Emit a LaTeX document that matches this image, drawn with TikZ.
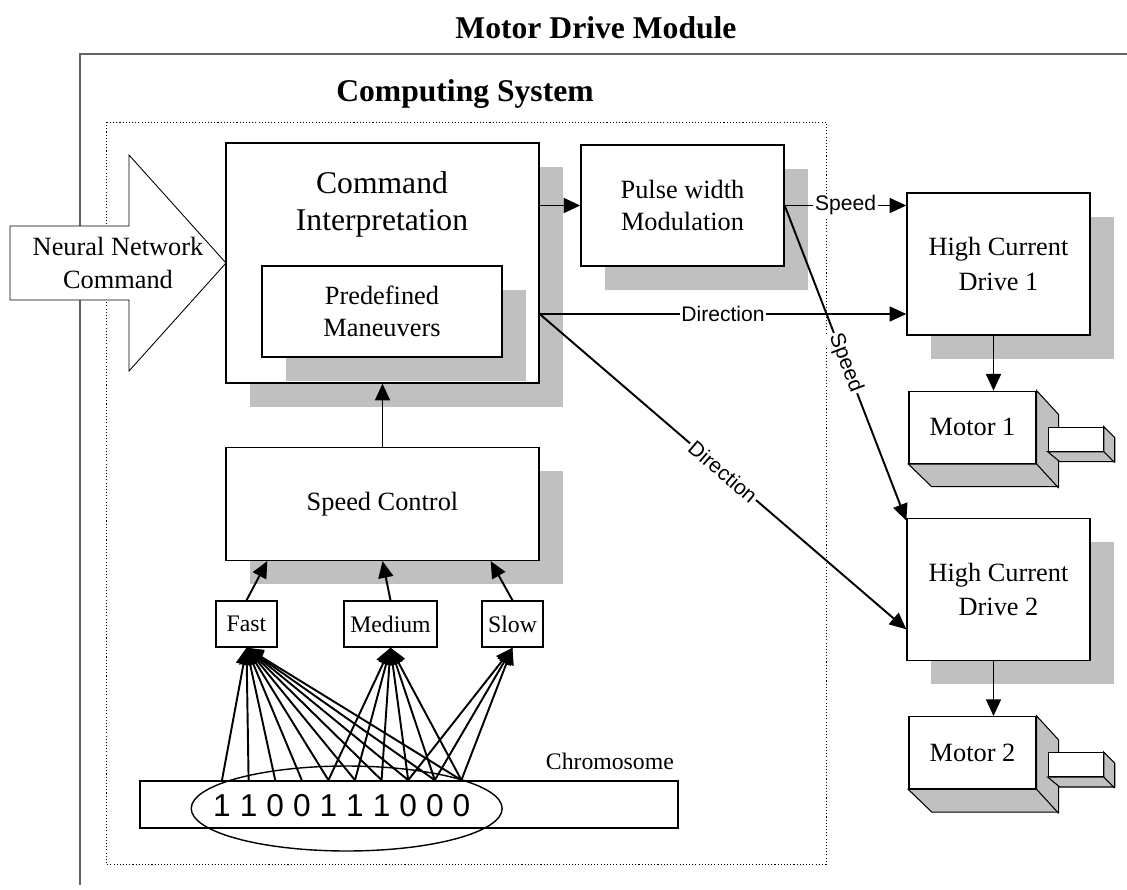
\documentclass[tikz,border=0pt]{standalone}
\usepackage{fontspec}
\setmainfont{Liberation Serif}
\newfontfamily\arialfont{Liberation Sans}
\usetikzlibrary{positioning,calc,shadows,arrows.meta}

\definecolor{shadegray}{RGB}{192,192,192}
\definecolor{framegray}{RGB}{100,100,100}

\tikzset{
  box/.style={draw, fill=white, line width=0.8pt, inner sep=0pt, align=center,
    font=\fontsize{15}{18.5}\selectfont},
  shadowed/.style={general shadow={fill=shadegray, shadow xshift=0.48cm, shadow yshift=-0.48cm}},
  smallbox/.style={draw, fill=white, line width=0.8pt, inner sep=0pt,
    minimum height=0.92cm, font=\fontsize{13.5}{16}\selectfont},
  link/.style={line width=1.1pt, -{Triangle[length=9.5pt, width=8.5pt]}},
  tag/.style={fill=white, inner sep=1pt, font=\arialfont\fontsize{12}{14}\selectfont},
  face/.style={draw, fill=shadegray, line width=0.6pt},
  heading/.style={font=\bfseries\fontsize{18}{21}\selectfont},
}

\begin{document}
\begin{tikzpicture}[x=0.02cm, y=-0.02cm]
\useasboundingbox (0,0) rectangle (1127,890);

% frames
\node[heading] (module) at (596,28) {Motor Drive Module};
\draw[framegray, line width=1.1pt] (80,885) -- (80,54) -- (1127,54);
\node[heading] (computing) at (465,94) {Computing System};
\draw[dash pattern=on 0.6pt off 1.2pt, line width=0.5pt] (106,122) rectangle (826,864);

% input arrow
\draw[line width=0.5pt, fill=white] (10,226) -- (129,226) -- (129,155) -- (226,263)
  -- (129,371) -- (129,300) -- (10,300) -- cycle;
\node[align=center, font=\fontsize{15}{18.5}\selectfont] (nnc) at (118,263) {Neural Network\\Command};

% command blocks
\node[box, shadowed, minimum width=6.26cm, minimum height=4.8cm] (ci) at (382.5,263) {};
\node[align=center, font=\fontsize{18}{21}\selectfont] (citext) at (382,204) {Command\\Interpretation};
\node[box, shadowed, minimum width=4.8cm, minimum height=1.82cm] (pm) at (382,311.5) {Predefined\\Maneuvers};
\node[box, shadowed, minimum width=4.06cm, minimum height=2.42cm] (pwm) at (682.5,205.5) {Pulse width\\Modulation};
\node[box, shadowed, below=1.26cm of ci, minimum width=6.26cm, minimum height=2.26cm] (sc) {Speed Control};

% drivers
\node[box, shadowed, minimum width=3.66cm, minimum height=2.84cm, font=\fontsize{15}{19.5}\selectfont] (hcd1) at (998.5,264) {High Current\\Drive 1};
\node[box, shadowed, below=3.64cm of hcd1, minimum width=3.66cm, minimum height=2.84cm, font=\fontsize{15}{19.5}\selectfont] (hcd2) {High Current\\Drive 2};

% motors
\foreach \m in {1,2} {
  \node[box, below right=1.1cm and 0.04cm of hcd\m.south west, minimum width=2.54cm, minimum height=1.44cm] (m\m) {Motor \m};
  \draw[face] (m\m.north east) -- ++(22,24) -- ++(0,72) -- ++(-127,0) -- (m\m.south west) -- (m\m.south east) -- cycle;
  \draw[face] (m\m.south east) -- ++(22,24);
  \node[draw, fill=white, line width=0.6pt, anchor=north west, minimum width=1.1cm, minimum height=0.48cm, inner sep=0pt]
    (s\m) at ([xshift=0.22cm, yshift=-0.72cm]m\m.north east) {};
  \draw[face] (s\m.north east) -- ++(11,11) -- ++(0,24) -- ++(-55,0) -- (s\m.south west) -- (s\m.south east) -- cycle;
  \draw[face] (s\m.south east) -- ++(11,11);
  \draw[link] ([xshift=-0.1cm]hcd\m.south) -- ([xshift=-0.1cm]hcd\m.south |- m\m.north);
}

% speed levels
\node[smallbox, minimum width=1.22cm] (fast) at (246.5,624) {Fast};
\node[smallbox, minimum width=1.86cm] (medium) at (390.5,624) {Medium};
\node[smallbox, minimum width=1.22cm] (slow) at (512.5,624) {Slow};

% chromosome
\node[draw, line width=1pt, minimum width=10.76cm, minimum height=0.94cm] (chrom) at (409,804.5) {};
\node[anchor=east, font=\fontsize{13.5}{16}\selectfont] (chromlabel) at (680,761) {Chromosome};
\foreach \b [count=\i from 0] in {1,1,0,0,1,1,1,0,0,0}
  \node[inner sep=0pt, font=\arialfont\fontsize{18}{20}\selectfont] (b\i) at (222+26.6*\i,806) {\b};
\draw[line width=0.8pt] ($(b0)!0.5!(b9)+(5,2.5)$) ellipse [x radius=3.11cm, y radius=0.85cm];

\foreach \i in {0,...,9}
  \draw[link] (b\i |- chrom.north) -- (fast.south);
\foreach \i in {4,...,9}
  \draw[link] (b\i |- chrom.north) -- (medium.south);
\foreach \i in {7,8,9}
  \draw[link] (b\i |- chrom.north) -- (slow.south);

\draw[link] (fast.north) -- ($(sc.south west)+(42,0)$);
\draw[link] (medium.north) -- (sc.south);
\draw[link] (slow.north) -- ($(sc.south east)+(-49,0)$);
\draw[link] (sc.north) -- (ci.south);

% outputs
\coordinate (dirout) at ([yshift=-1.02cm]ci.east);
\draw[link] (ci.east |- pwm.west) -- (pwm.west);
\draw[link] (pwm.east) -- node[tag] {Speed} (pwm.east -| hcd1.west);
\draw[link] (dirout) -- node[tag] {Direction} (dirout -| hcd1.west);
\draw[link] (pwm.east) -- node[tag, sloped] {Speed} ([yshift=-0.06cm]hcd2.north west);
\draw[link] (dirout) -- node[tag, sloped] {Direction} ([yshift=-0.8cm]hcd2.west);
\end{tikzpicture}
\end{document}
